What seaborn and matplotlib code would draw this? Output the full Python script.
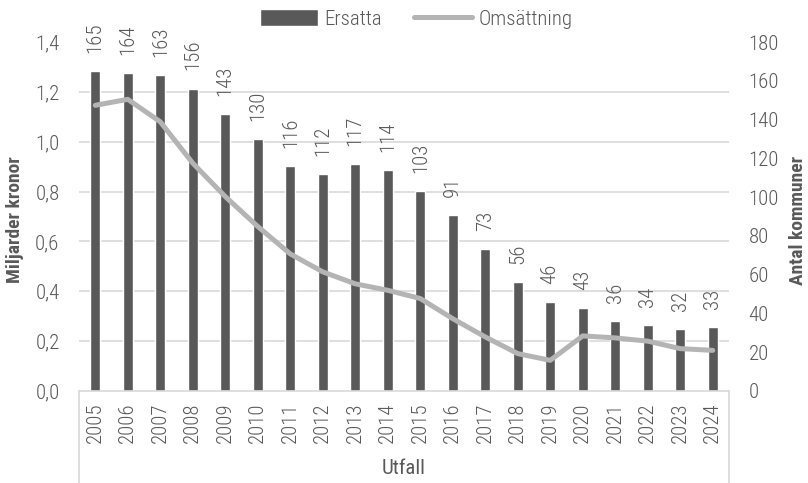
import numpy as np
import pandas as pd
import matplotlib.pyplot as plt
import seaborn as sns

# Data
years = [str(y) for y in range(2005, 2025)]
ersatta = [165, 164, 163, 156, 143, 130, 116, 112, 117, 114,
           103, 91, 73, 56, 46, 43, 36, 34, 32, 33]
omsattning = [1.146, 1.17, 1.08, 0.914, 0.78, 0.66, 0.55, 0.478, 0.43, 0.404,
              0.371, 0.29, 0.217, 0.15, 0.123, 0.221, 0.213, 0.20, 0.17, 0.163]

df = pd.DataFrame({'År': years, 'Ersatta': ersatta, 'Omsättning': omsattning})

sns.set_style('white')
plt.rcParams['font.family'] = ['Roboto Condensed', 'DejaVu Sans']
plt.rcParams['font.weight'] = 300

text_col = '#595959'
bar_col = '#595959'
line_col = '#b4b4b4'
grid_col = '#d9d9d9'
fs = 15

fig = plt.figure(figsize=(8.08, 4.83), dpi=100)
ax = fig.add_axes([79 / 808, 1 - 391 / 483, 650 / 808, 349 / 483])

# Omsättning on left axis
sns.lineplot(data=df, x='År', y='Omsättning', ax=ax, color=line_col,
             linewidth=3.6, label='Omsättning', sort=False)
ax.lines[0].set_solid_joinstyle('round')
ax.lines[0].set_solid_capstyle('round')

# Ersatta on right axis
ax2 = ax.twinx()
sns.barplot(data=df, x='År', y='Ersatta', ax=ax2, color=bar_col,
            width=0.32, saturation=1, label='Ersatta')
ax2.bar_label(ax2.containers[0], rotation=90, padding=13,
              color=text_col, fontsize=fs)

ax.set_zorder(ax2.get_zorder() + 1)
ax.patch.set_visible(False)
ax2.patch.set_visible(True)
ax2.patch.set_facecolor('white')

ax.set_ylim(0, 1.4)
ax.set_yticks(np.arange(0, 1.41, 0.2))
ax.set_yticklabels([f'{v:.1f}'.replace('.', ',') for v in np.arange(0, 1.41, 0.2)])
ax2.set_ylim(0, 180)
ax2.set_yticks(range(0, 181, 20))
ax.set_xlim(-0.5, len(years) - 0.5)

# gridlines follow left axis steps but are drawn behind the bars
ax2.set_yticks(np.linspace(0, 180, 8), minor=True)
ax2.grid(which='minor', axis='y', color=grid_col, linewidth=1.2)
ax2.grid(which='major', visible=False)
ax.grid(False)

for a in (ax, ax2):
    for s in a.spines.values():
        s.set_visible(False)
    a.tick_params(axis='both', which='both', length=0, labelsize=fs,
                  labelcolor=text_col)
ax.tick_params(axis='y', pad=14)
ax2.tick_params(axis='y', pad=14)
ax.tick_params(axis='x', labelrotation=90, pad=8)
ax.spines['bottom'].set_visible(True)
ax.spines['bottom'].set_color(grid_col)
ax.spines['bottom'].set_linewidth(1.2)

# category box lines below the axis
for xf in (0, 1):
    ax.plot([xf, xf], [0, -0.27], transform=ax.transAxes, clip_on=False,
            color=grid_col, linewidth=1.2)

ax.set_xlabel('Utfall', fontsize=fs, color=text_col, va='center')
ax.xaxis.set_label_coords(0.5, -0.222)
ax.set_ylabel('Miljarder kronor', fontsize=14, color=text_col,
              fontweight='bold', va='center')
ax.yaxis.set_label_coords(-0.098, 0.49)
ax2.set_ylabel('Antal kommuner', fontsize=14, color=text_col,
               fontweight='bold', va='center')
ax2.yaxis.set_label_coords(1.106, 0.49)
ax2.set_xlabel('')

h1, l1 = ax2.get_legend_handles_labels()
h2, l2 = ax.get_legend_handles_labels()
for a in (ax, ax2):
    if a.get_legend():
        a.get_legend().remove()
fig.legend(h1 + h2, l1 + l2, loc='center', bbox_to_anchor=(0.515, 1 - 19 / 483),
           ncol=2, frameon=False, fontsize=fs, labelcolor=text_col,
           handlelength=2.8, handleheight=0.85, handletextpad=0.3,
           columnspacing=1.5)

fig.savefig('out.png', dpi=100)
